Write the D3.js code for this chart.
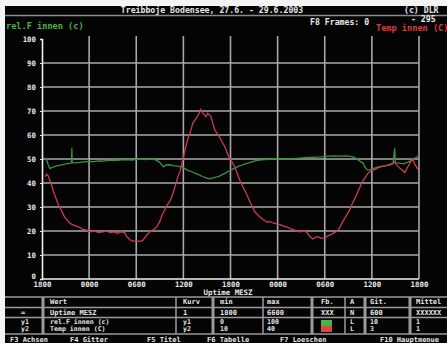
<!DOCTYPE html>
<html>
<head>
<meta charset="utf-8">
<script src="https://cdn.jsdelivr.net/npm/d3@7"></script>
<style>
  html, body { margin: 0; padding: 0; background: #fff; }
  svg { display: block; }
  text { font-family: "DejaVu Sans Mono", "Liberation Mono", monospace; font-weight: bold; }
</style>
</head>
<body>
<svg id="chart" width="447" height="343"></svg>
<script>
// Treibboje Bodensee: relative humidity and interior temperature over uptime (hours)
const title = "Treibboje Bodensee, 27.6. - 29.6.2003";
const xTicks = [18, 24, 30, 36, 42, 48, 54, 60, 66];
const yLeftTicks = [0, 10, 20, 30, 40, 50, 60, 70, 80, 90, 100];
const yRightTicks = [10, 13, 16, 19, 22, 25, 28, 31, 34, 37, 40];

// rel.F innen (%) over uptime hours
const humHours = [18.4,18.6,18.8,19.0,19.3,19.6,20.0,20.5,21.0,21.5,21.75,21.8,21.85,22.3,22.8,23.4,24.0,24.6,25.2,25.8,26.4,27.0,27.6,28.2,28.8,29.4,30.0,30.6,31.2,31.8,32.4,32.9,33.2,33.5,33.8,34.2,34.7,35.2,35.7,36.1,36.5,37.0,37.5,38.0,38.5,39.0,39.4,39.8,40.2,40.6,41.0,41.4,41.8,42.2,42.6,43.0,43.4,43.9,44.4,44.9,45.4,45.9,46.5,47.2,48.0,48.8,49.6,50.4,51.2,52.0,52.8,53.6,54.4,55.2,56.0,56.8,57.5,57.9,58.3,58.6,58.9,59.1,59.4,59.8,60.2,60.7,61.2,61.7,62.2,62.7,62.9,63.0,63.5,64.0,64.5,65.0,65.5,66.0];
const humValues = [50.5,49.5,47.5,46.0,46.5,46.8,47.2,47.6,48.0,48.2,48.4,54.5,48.5,48.4,48.6,48.8,49.0,48.9,49.2,49.1,49.4,49.5,49.4,49.6,49.7,49.5,49.8,50.0,49.8,50.0,49.8,48.8,47.8,46.7,47.5,47.6,47.2,47.0,46.7,46.2,45.4,44.8,44.0,43.4,42.6,42.0,41.7,42.1,42.5,42.9,43.6,44.2,45.0,45.6,46.3,46.9,47.4,48.0,48.5,49.0,49.4,49.6,49.8,50.0,50.0,50.1,50.0,50.3,50.5,50.7,50.8,50.9,51.2,51.3,51.2,51.3,51.0,50.4,49.5,48.8,48.3,46.7,45.5,45.6,46.0,46.6,46.9,47.1,47.5,48.0,54.5,48.4,48.3,48.0,48.6,49.3,50.4,51.4];

// Temp innen (°C) over uptime hours
const tempHours = [18.4,18.6,18.8,19.0,19.2,19.4,19.7,20.0,20.3,20.6,20.9,21.2,21.5,21.9,22.3,22.7,23.2,23.7,24.2,24.7,25.2,25.7,26.2,26.7,27.2,27.6,28.0,28.5,28.8,29.2,29.6,30.0,30.4,30.8,31.2,31.7,32.1,32.6,33.0,33.3,33.6,33.9,34.2,34.5,34.9,35.3,35.6,35.8,36.0,36.2,36.6,36.9,37.2,37.5,37.9,38.2,38.5,38.9,39.1,39.5,39.8,40.0,40.3,40.7,41.0,41.3,41.6,41.9,42.2,42.6,42.9,43.2,43.5,43.8,44.1,44.5,44.8,45.1,45.4,45.8,46.2,46.7,47.0,47.4,47.9,48.3,48.7,49.2,49.6,50.0,50.4,50.9,51.3,51.7,52.1,52.5,52.8,53.1,53.5,54.0,54.4,54.9,55.2,55.6,56.0,56.3,56.8,57.2,57.5,57.9,58.3,58.7,59.1,59.5,59.8,60.1,60.6,61.0,61.5,61.9,62.3,62.6,62.9,63.2,63.6,63.9,64.2,64.5,64.8,65.2,65.5,65.8,66.0];
const tempValues = [22.8,23.1,22.9,22.3,21.8,21.1,20.3,19.5,18.9,18.3,17.7,17.4,17.0,16.8,16.6,16.5,16.2,16.1,15.9,16.0,15.8,15.9,16.0,15.8,15.9,15.7,15.9,15.8,15.3,14.9,14.7,14.8,14.7,14.8,15.3,15.9,16.1,16.5,17.2,18.0,18.6,19.2,19.6,20.2,21.4,22.8,23.5,24.4,25.2,26.1,27.6,28.4,29.5,29.9,30.5,31.2,30.7,30.3,30.7,30.3,29.3,28.6,28.2,27.6,27.0,26.5,25.7,25.1,24.6,23.9,23.1,22.3,21.7,21.1,20.5,19.6,19.0,18.4,18.1,17.7,17.4,17.1,17.2,17.0,16.9,16.8,16.6,16.5,16.3,16.2,16.0,15.9,16.0,15.9,15.3,15.0,15.2,15.3,15.1,15.1,15.4,15.6,15.8,16.0,16.6,17.2,18.0,18.7,19.4,20.2,21.1,22.0,22.6,23.2,23.5,23.6,23.8,24.0,24.1,24.2,24.3,24.5,24.6,24.2,23.8,23.6,23.3,23.9,24.4,25.0,24.3,23.8,24.1];

// Table rows below the plot
const tableHeader = ["Wert", "Kurv", "min", "max", "Fb.", "A", "Git.", "Mittel"];
const tableRows = [
  { sym: "=",  name: "Uptime MESZ",     kurv: "1",  min: "1800", max: "6600", fb: "XXX", a: "N", git: "600", mittel: "XXXXXX" },
  { sym: "y1", name: "rel.F innen (c)", kurv: "y1", min: "0",    max: "100",  fb: "",    a: "L", git: "10",  mittel: "1" },
  { sym: "y2", name: "Temp innen (C)",  kurv: "y2", min: "10",   max: "40",   fb: "",    a: "L", git: "3",   mittel: "1" }
];
const fnKeys = [["F3 Achsen", 10], ["F4 Gitter", 70], ["F5 Titel", 147], ["F6 Tabelle", 207], ["F7 Loeschen", 280], ["F10 Hauptmenue", 380]];

const svg = d3.select("#chart");
const W = 447, H = 343;

// screen frame: white border top/left, black screen
svg.append("rect").attr("width", W).attr("height", H).attr("fill", "#f4f4f4");
svg.append("rect").attr("x", 5).attr("y", 6).attr("width", W - 5).attr("height", H - 6).attr("fill", "#040404");
svg.append("line").attr("x1", 5).attr("x2", W).attr("y1", 15.5).attr("y2", 15.5)
  .attr("stroke", "#8a8a8a").attr("stroke-width", 1.5);

const x = d3.scaleLinear().domain([18, 66]).range([42, 419]);
const yL = d3.scaleLinear().domain([0, 100]).range([279, 39]);
const yR = d3.scaleLinear().domain([10, 40]).range([279, 39]);

const fmtHour = h => d3.format("02d")(h % 24) + "00";

// header texts
svg.append("text").attr("x", 212).attr("y", 13).attr("text-anchor", "middle")
  .attr("font-size", 8.2).attr("fill", "#e8e8e8").text(title);
svg.append("text").attr("x", 404).attr("y", 13).attr("font-size", 8.2).attr("fill", "#e8e8e8").text("(c) DLR");
svg.append("text").attr("x", 6).attr("y", 29).attr("font-size", 8.6).attr("fill", "#49b449").text("rel.F innen (c)");
svg.append("text").attr("x", 310).attr("y", 25).attr("font-size", 8.2).attr("fill", "#e8e8e8").text("F8 Frames: 0");
svg.append("text").attr("x", 411).attr("y", 22).attr("font-size", 8.2).attr("fill", "#e8e8e8").text("- 295");
svg.append("text").attr("x", 376).attr("y", 31).attr("font-size", 8.6).attr("fill", "#e03a3a").text("Temp innen (C)");

// grid
const grid = svg.append("g").attr("stroke", "#a8a8a8").attr("stroke-width", 1.6);
grid.selectAll("line.h").data(yLeftTicks.filter(v => v > 0 && v < 100)).join("line")
  .attr("x1", x(18)).attr("x2", x(66)).attr("y1", d => yL(d)).attr("y2", d => yL(d));
grid.selectAll("line.v").data(xTicks.slice(1)).join("line")
  .attr("x1", d => x(d)).attr("x2", d => x(d)).attr("y1", 36).attr("y2", yL(0));

// axes
const axisL = svg.append("g").attr("transform", `translate(${x(18)},0)`)
  .call(d3.axisLeft(yL).tickValues(yLeftTicks).tickSize(2).tickFormat(d => d));
const axisB = svg.append("g").attr("transform", `translate(0,${yL(0)})`)
  .call(d3.axisBottom(x).tickValues(xTicks).tickSize(0).tickPadding(3).tickFormat(fmtHour));
const axisR = svg.append("g").attr("transform", `translate(${x(66) + 25},0)`)
  .call(d3.axisRight(yR).tickValues(yRightTicks).tickSize(0).tickFormat(d => d));
[axisL, axisB, axisR].forEach(g => {
  g.select(".domain").attr("stroke", "#f0f0f0").attr("stroke-width", 1.6);
  g.selectAll(".tick line").attr("stroke", "#f0f0f0");
  g.selectAll("text").attr("fill", "#e8e8e8").attr("font-size", 7.4)
    .attr("font-family", "DejaVu Sans Mono").attr("font-weight", "bold");
});
axisR.select(".domain").remove();
axisL.selectAll("text").attr("dx", "-1");
axisL.selectAll(".tick").filter(d => d === 0).select("text").attr("dy", "-0.1em");
axisB.select(".domain").attr("d", `M${x(18)},0H${x(66)}`);

svg.append("text").attr("x", 228).attr("y", 295).attr("text-anchor", "middle")
  .attr("font-size", 7.4).attr("fill", "#e8e8e8").text("Uptime MESZ");

// series
const humData = humHours.map((h, i) => [h, humValues[i]]);
const tempData = tempHours.map((h, i) => [h, tempValues[i]]);
svg.append("path").datum(humData).attr("fill", "none").attr("stroke", "#3c933c").attr("stroke-width", 1.3)
  .attr("d", d3.line().x(d => x(d[0])).y(d => yL(d[1])));
svg.append("path").datum(tempData).attr("fill", "none").attr("stroke", "#cc3c50").attr("stroke-width", 1.3)
  .attr("d", d3.line().x(d => x(d[0])).y(d => yR(d[1])));

// table
const tbl = svg.append("g");
const lineCol = "#9a9a9a";
[297, 307.5, 317.5, 334].forEach(yy => {
  tbl.append("line").attr("x1", 5).attr("x2", W).attr("y1", yy).attr("y2", yy)
    .attr("stroke", lineCol).attr("stroke-width", 1.6);
});
const vCols = [[43, 3], [176, 1.5], [213, 3], [263, 1.5], [312, 3], [345, 1.5], [365, 3], [410, 3]];
vCols.forEach(([xx, w]) => {
  tbl.append("line").attr("x1", xx).attr("x2", xx).attr("y1", 297).attr("y2", 334)
    .attr("stroke", lineCol).attr("stroke-width", w);
});
const colX = { sym: 21, name: 50, kurv: 183, min: 220, max: 267, fb: 321, a: 350, git: 370, mittel: 416 };
const keys = ["name", "kurv", "min", "max", "fb", "a", "git", "mittel"];
keys.forEach((k, i) => {
  tbl.append("text").attr("x", colX[k]).attr("y", 304).attr("font-size", 7).attr("fill", "#e8e8e8").text(tableHeader[i]);
});
const rowY = [315, 324, 331];
tableRows.forEach((r, j) => {
  ["sym"].concat(keys).forEach(k => {
    if (!r[k]) return;
    tbl.append("text").attr("x", colX[k]).attr("y", rowY[j])
      .attr("font-size", j === 0 ? 7 : 6.6).attr("fill", "#e8e8e8").text(r[k]);
  });
});
// colour swatch for the two curves
tbl.append("rect").attr("x", 321).attr("y", 320).attr("width", 11).attr("height", 6).attr("fill", "#47b447");
tbl.append("rect").attr("x", 321).attr("y", 326).attr("width", 11).attr("height", 6).attr("fill", "#e0463c");

// function key bar
fnKeys.forEach(([t, xx]) => {
  svg.append("text").attr("x", xx).attr("y", 342).attr("font-size", 7).attr("fill", "#e8e8e8").text(t);
});
</script>
</body>
</html>
